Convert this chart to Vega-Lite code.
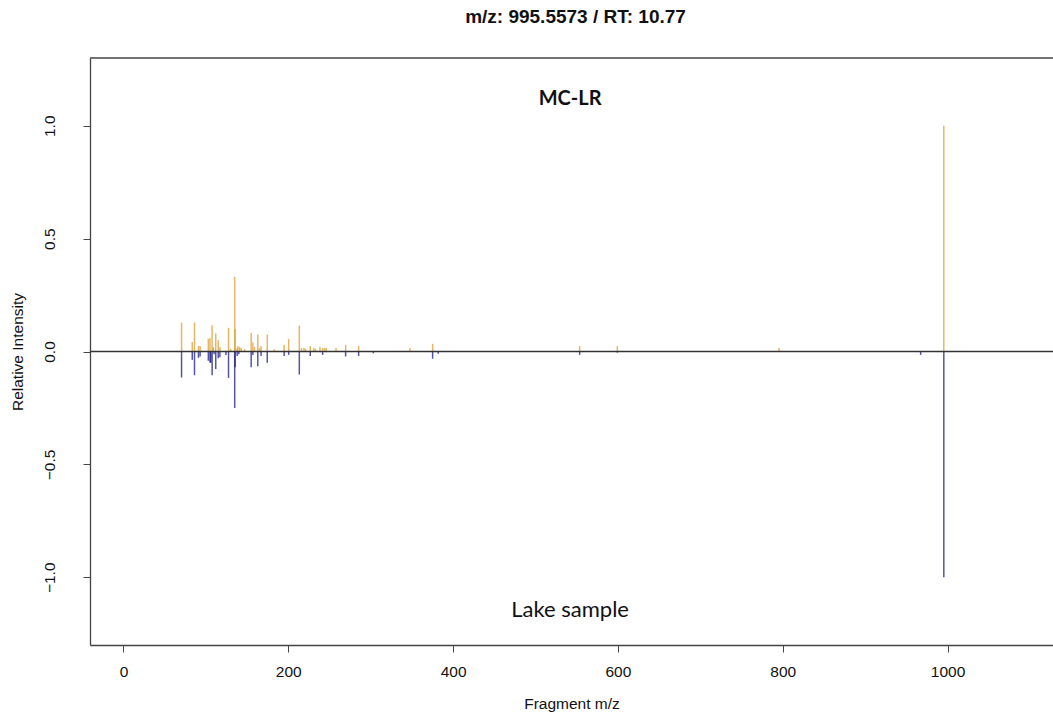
{
  "$schema": "https://vega.github.io/schema/vega-lite/v6.json",
  "width": 963,
  "height": 587,
  "autosize": "none",
  "padding": {"left": 90, "top": 58, "right": 0, "bottom": 73},
  "background": "white",
  "config": {
    "view": {"stroke": null},
    "font": "Liberation Sans",
    "axis": {"grid": false, "domainColor": "#444", "domainWidth": 1.3, "tickColor": "#444", "tickWidth": 1, "labelColor": "#111", "titleColor": "#111", "labelFont": "Liberation Sans", "titleFont": "Liberation Sans", "labelFontSize": 15.5, "titleFontSize": 15.5, "titleFontWeight": "normal"}
  },
  "title": {"text": "m/z: 995.5573 / RT: 10.77", "fontSize": 19, "fontWeight": "bold", "font": "Liberation Sans", "anchor": "middle", "offset": 30, "dx": 4, "color": "#111"},
  "datasets": {
    "peaks": [
      {"mz": 70.5, "intensity": 0.128, "sample": "Reference"},
      {"mz": 83.5, "intensity": 0.042, "sample": "Reference"},
      {"mz": 86.2, "intensity": 0.128, "sample": "Reference"},
      {"mz": 91, "intensity": 0.024, "sample": "Reference"},
      {"mz": 93, "intensity": 0.024, "sample": "Reference"},
      {"mz": 103, "intensity": 0.056, "sample": "Reference"},
      {"mz": 105, "intensity": 0.06, "sample": "Reference"},
      {"mz": 107.6, "intensity": 0.116, "sample": "Reference"},
      {"mz": 109, "intensity": 0.02, "sample": "Reference"},
      {"mz": 112, "intensity": 0.08, "sample": "Reference"},
      {"mz": 115, "intensity": 0.05, "sample": "Reference"},
      {"mz": 117, "intensity": 0.02, "sample": "Reference"},
      {"mz": 127.5, "intensity": 0.105, "sample": "Reference"},
      {"mz": 130, "intensity": 0.012, "sample": "Reference"},
      {"mz": 135, "intensity": 0.33, "sample": "Reference"},
      {"mz": 135.5, "intensity": 0.1, "sample": "Reference"},
      {"mz": 138, "intensity": 0.015, "sample": "Reference"},
      {"mz": 139, "intensity": 0.024, "sample": "Reference"},
      {"mz": 141, "intensity": 0.02, "sample": "Reference"},
      {"mz": 143, "intensity": 0.015, "sample": "Reference"},
      {"mz": 147, "intensity": 0.01, "sample": "Reference"},
      {"mz": 155, "intensity": 0.082, "sample": "Reference"},
      {"mz": 157, "intensity": 0.04, "sample": "Reference"},
      {"mz": 159, "intensity": 0.02, "sample": "Reference"},
      {"mz": 163, "intensity": 0.075, "sample": "Reference"},
      {"mz": 165, "intensity": 0.015, "sample": "Reference"},
      {"mz": 167, "intensity": 0.024, "sample": "Reference"},
      {"mz": 174.5, "intensity": 0.075, "sample": "Reference"},
      {"mz": 183, "intensity": 0.01, "sample": "Reference"},
      {"mz": 195, "intensity": 0.03, "sample": "Reference"},
      {"mz": 200.5, "intensity": 0.056, "sample": "Reference"},
      {"mz": 213.4, "intensity": 0.115, "sample": "Reference"},
      {"mz": 216, "intensity": 0.015, "sample": "Reference"},
      {"mz": 219, "intensity": 0.015, "sample": "Reference"},
      {"mz": 221, "intensity": 0.012, "sample": "Reference"},
      {"mz": 226.7, "intensity": 0.024, "sample": "Reference"},
      {"mz": 231, "intensity": 0.015, "sample": "Reference"},
      {"mz": 233, "intensity": 0.012, "sample": "Reference"},
      {"mz": 238.5, "intensity": 0.02, "sample": "Reference"},
      {"mz": 241.7, "intensity": 0.015, "sample": "Reference"},
      {"mz": 244, "intensity": 0.015, "sample": "Reference"},
      {"mz": 246, "intensity": 0.015, "sample": "Reference"},
      {"mz": 258, "intensity": 0.015, "sample": "Reference"},
      {"mz": 269.6, "intensity": 0.03, "sample": "Reference"},
      {"mz": 285.4, "intensity": 0.024, "sample": "Reference"},
      {"mz": 347.7, "intensity": 0.015, "sample": "Reference"},
      {"mz": 375.2, "intensity": 0.034, "sample": "Reference"},
      {"mz": 553.6, "intensity": 0.024, "sample": "Reference"},
      {"mz": 599.3, "intensity": 0.024, "sample": "Reference"},
      {"mz": 795.5, "intensity": 0.015, "sample": "Reference"},
      {"mz": 995.5, "intensity": 1.0, "sample": "Reference"},
      {"mz": 70.5, "intensity": -0.115, "sample": "Lake"},
      {"mz": 83.5, "intensity": -0.037, "sample": "Lake"},
      {"mz": 86.2, "intensity": -0.105, "sample": "Lake"},
      {"mz": 91, "intensity": -0.028, "sample": "Lake"},
      {"mz": 93, "intensity": -0.022, "sample": "Lake"},
      {"mz": 103, "intensity": -0.041, "sample": "Lake"},
      {"mz": 105, "intensity": -0.05, "sample": "Lake"},
      {"mz": 106, "intensity": -0.05, "sample": "Lake"},
      {"mz": 107.6, "intensity": -0.105, "sample": "Lake"},
      {"mz": 110, "intensity": -0.012, "sample": "Lake"},
      {"mz": 112, "intensity": -0.077, "sample": "Lake"},
      {"mz": 115, "intensity": -0.03, "sample": "Lake"},
      {"mz": 117, "intensity": -0.025, "sample": "Lake"},
      {"mz": 124.4, "intensity": -0.016, "sample": "Lake"},
      {"mz": 127.5, "intensity": -0.117, "sample": "Lake"},
      {"mz": 135, "intensity": -0.25, "sample": "Lake"},
      {"mz": 135.5, "intensity": -0.07, "sample": "Lake"},
      {"mz": 138, "intensity": -0.02, "sample": "Lake"},
      {"mz": 140, "intensity": -0.012, "sample": "Lake"},
      {"mz": 155, "intensity": -0.07, "sample": "Lake"},
      {"mz": 157, "intensity": -0.015, "sample": "Lake"},
      {"mz": 163, "intensity": -0.065, "sample": "Lake"},
      {"mz": 167, "intensity": -0.02, "sample": "Lake"},
      {"mz": 174.5, "intensity": -0.05, "sample": "Lake"},
      {"mz": 195, "intensity": -0.02, "sample": "Lake"},
      {"mz": 200.5, "intensity": -0.015, "sample": "Lake"},
      {"mz": 213.4, "intensity": -0.102, "sample": "Lake"},
      {"mz": 226.7, "intensity": -0.02, "sample": "Lake"},
      {"mz": 241.7, "intensity": -0.015, "sample": "Lake"},
      {"mz": 269.6, "intensity": -0.022, "sample": "Lake"},
      {"mz": 285.4, "intensity": -0.02, "sample": "Lake"},
      {"mz": 303.2, "intensity": -0.008, "sample": "Lake"},
      {"mz": 375.2, "intensity": -0.032, "sample": "Lake"},
      {"mz": 382, "intensity": -0.01, "sample": "Lake"},
      {"mz": 553.6, "intensity": -0.015, "sample": "Lake"},
      {"mz": 599.3, "intensity": -0.005, "sample": "Lake"},
      {"mz": 967.4, "intensity": -0.015, "sample": "Lake"},
      {"mz": 995.5, "intensity": -1.0, "sample": "Lake"}
    ],
    "compound": [
      {"mz": 542, "intensity": 1.12, "label": "MC-LR"}
    ],
    "sampleLabel": [
      {"mz": 542, "intensity": -1.145, "label": "Lake sample"}
    ]
  },
  "layer": [
    {
      "data": {"name": "peaks"},
      "mark": {"type": "rule", "strokeWidth": 1.5, "opacity": 0.72},
      "encoding": {
        "x": {"field": "mz", "type": "quantitative", "scale": {"domain": [-40.6, 1128], "nice": false, "zero": false},
              "axis": {"title": "Fragment m/z", "values": [0, 200, 400, 600, 800, 1000], "format": "d", "domain": true, "tickSize": 7, "labelPadding": 12, "titlePadding": 17}},
        "y": {"field": "intensity", "type": "quantitative", "scale": {"domain": [-1.3, 1.3], "nice": false},
              "axis": {"title": "Relative Intensity", "values": [-1, -0.5, 0, 0.5, 1], "format": ".1f", "labelAngle": -90, "labelAlign": "center", "labelBaseline": "bottom", "tickSize": 7, "labelPadding": 26, "titlePadding": 17, "labelExpr": "replace(datum.label, '-', '\u2212')"}},
        "y2": {"datum": 0},
        "color": {"field": "sample", "type": "nominal", "scale": {"domain": ["Reference", "Lake"], "range": ["#DC9A2C", "#14147F"]}, "legend": null}
      }
    },
    {
      "data": {"values": [{"v": 0}]},
      "mark": {"type": "rule", "color": "#333", "strokeWidth": 1.3},
      "encoding": {"y": {"datum": 0}}
    },
    {
      "data": {"values": [{"v": 1.3}]},
      "mark": {"type": "rule", "color": "#444", "strokeWidth": 1.3},
      "encoding": {"y": {"datum": 1.3}}
    },
    {
      "data": {"name": "compound"},
      "mark": {"type": "text", "font": "Lato", "fontSize": 20, "fontWeight": "bold", "align": "center", "baseline": "middle", "color": "#111"},
      "encoding": {
        "x": {"field": "mz", "type": "quantitative"},
        "y": {"field": "intensity", "type": "quantitative"},
        "text": {"field": "label"}
      }
    },
    {
      "data": {"name": "sampleLabel"},
      "mark": {"type": "text", "font": "Lato", "fontSize": 22, "align": "center", "baseline": "middle", "color": "#111"},
      "encoding": {
        "x": {"field": "mz", "type": "quantitative"},
        "y": {"field": "intensity", "type": "quantitative"},
        "text": {"field": "label"}
      }
    }
  ]
}
